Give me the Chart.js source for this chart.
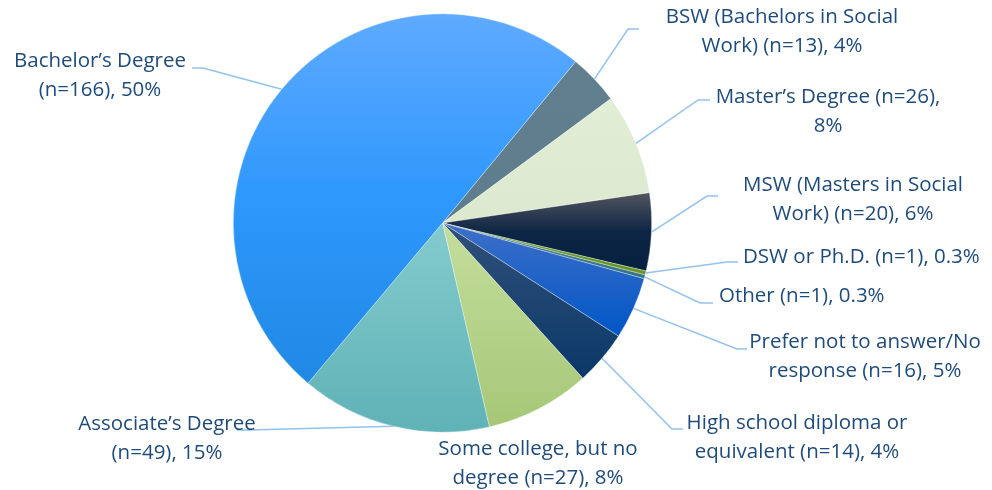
<!DOCTYPE html>
<html>
<head>
<meta charset="utf-8">
<script src="https://cdn.jsdelivr.net/npm/chart.js@4.4.1/dist/chart.umd.min.js"></script>
<style>
  html, body { margin: 0; padding: 0; background: #fff; }
  #wrap { width: 992px; height: 490px; }
</style>
</head>
<body>
<div id="wrap"><canvas id="eduChart" width="992" height="490"></canvas></div>
<script>
(function () {
    'use strict';

    // ── Data (clockwise from the BSW slice) ───────────────────────
    const CATEGORIES = [
        'BSW (Bachelors in Social Work)',
        'Master\u2019s Degree',
        'MSW (Masters in Social Work)',
        'DSW or Ph.D.',
        'Other',
        'Prefer not to answer/No response',
        'High school diploma or equivalent',
        'Some college, but no degree',
        'Associate\u2019s Degree',
        'Bachelor\u2019s Degree'
    ];
    const COUNTS = [13, 26, 20, 1, 1, 16, 14, 27, 49, 166];

    // slice fills: colour stops of a vertical gradient, top to bottom
    const FILLS = [
        ['#617f8e', '#5f7d8c'],
        ['#e1edd4', '#dde9cf'],
        ['#52555f', '#0d2544', '#06203f'],
        ['#6f9c2c', '#679426'],
        ['#3f7f8e', '#347484'],
        ['#3f6fc8', '#0056c6'],
        ['#31507a', '#0a3868'],
        ['#c3de9c', '#a7c777'],
        ['#84cbcd', '#5fb2b6'],
        ['#5eaaff', '#2e98fc', '#2088e4']
    ];

    const TEXT_COLOR = '#1f4b7a';
    const LEADER_COLOR = '#93c2ec';
    const FONT = '20.5px "Open Sans", Lato, sans-serif';
    const LINE_H = 29;

    // label boxes: centre x, first-line y, words on first line, leader elbow/end
    const LABEL_POS = [
        { x: 782, y: 17,  words: 4, elbow: [628, 29],  end: [639, 29] },
        { x: 828, y: 97,  words: 3, elbow: [698, 100], end: [710, 100] },
        { x: 853, y: 185, words: 4, elbow: [707, 196], end: [718, 196] },
        { x: 743, y: 257, words: 0, align: 'left', elbow: [727, 262], end: [738, 262] },
        { x: 719, y: 296, words: 0, align: 'left', elbow: [700, 303], end: [713, 303] },
        { x: 865, y: 342, words: 4, elbow: [737, 349], end: [747, 349] },
        { x: 797, y: 423, words: 4, elbow: [672, 429], end: [683, 429] },
        { x: 538, y: 449, words: 4, elbow: null, end: null },
        { x: 167, y: 424, words: 2, elbow: [248, 430], end: [237, 430] },
        { x: 100, y: 61,  words: 2, elbow: [203, 68],  end: [192, 68] }
    ];

    const TOTAL = COUNTS.reduce(function (a, b) { return a + b; }, 0);

    function pctText(n) {
        var p = n / TOTAL * 100;
        return (p < 1 ? p.toFixed(1) : Math.round(p)) + '%';
    }

    function labelLines(i) {
        var words = (CATEGORIES[i] + ' (n=' + COUNTS[i] + '), ' + pctText(COUNTS[i])).split(' ');
        var k = LABEL_POS[i].words;
        if (!k) return [words.join(' ')];
        return [words.slice(0, k).join(' '), words.slice(k).join(' ')];
    }

    // ── Per-slice vertical gradients ─────────────────────────────
    function arcYRange(a) {
        var ys = [a.y, a.y + Math.sin(a.startAngle) * a.outerRadius, a.y + Math.sin(a.endAngle) * a.outerRadius];
        [Math.PI / 2, -Math.PI / 2, 1.5 * Math.PI, 2.5 * Math.PI].forEach(function (t) {
            if (t > a.startAngle && t < a.endAngle) ys.push(a.y + Math.sin(t) * a.outerRadius);
        });
        return [Math.min.apply(null, ys), Math.max.apply(null, ys)];
    }

    const gradientFill = {
        id: 'gradientFill',
        beforeDatasetsDraw: function (chart) {
            var ctx = chart.ctx;
            chart.getDatasetMeta(0).data.forEach(function (arc, i) {
                var r = arcYRange(arc);
                var g = ctx.createLinearGradient(0, r[0], 0, r[1]);
                var stops = FILLS[i];
                stops.forEach(function (c, k) { g.addColorStop(k / (stops.length - 1), c); });
                arc.options.backgroundColor = g;
            });
        }
    };

    // ── Leader lines + labels ────────────────────────────────────
    const leaderLabels = {
        id: 'leaderLabels',
        afterDatasetsDraw: function (chart) {
            var ctx = chart.ctx;
            ctx.save();
            chart.getDatasetMeta(0).data.forEach(function (arc, i) {
                var pos = LABEL_POS[i];
                if (pos.elbow) {
                    var mid = (arc.startAngle + arc.endAngle) / 2;
                    var ax = arc.x + Math.cos(mid) * arc.outerRadius;
                    var ay = arc.y + Math.sin(mid) * arc.outerRadius;
                    ctx.beginPath();
                    ctx.moveTo(ax, ay);
                    ctx.lineTo(pos.elbow[0], pos.elbow[1]);
                    ctx.lineTo(pos.end[0], pos.end[1]);
                    ctx.strokeStyle = LEADER_COLOR;
                    ctx.lineWidth = 1.5;
                    ctx.stroke();
                }
                ctx.font = FONT;
                ctx.fillStyle = TEXT_COLOR;
                ctx.textAlign = pos.align || 'center';
                ctx.textBaseline = 'middle';
                labelLines(i).forEach(function (line, j) {
                    ctx.fillText(line, pos.x, pos.y + j * LINE_H);
                });
            });
            ctx.restore();
        }
    };

    new Chart(document.getElementById('eduChart'), {
        type: 'pie',
        data: {
            labels: CATEGORIES,
            datasets: [{
                data: COUNTS,
                backgroundColor: FILLS.map(function (f) { return f[0]; }),
                borderColor: 'rgba(255,255,255,0.55)',
                borderWidth: 0.6
            }]
        },
        options: {
            responsive: false,
            animation: false,
            rotation: 39.5,
            layout: { padding: { left: 233, right: 340, top: 13, bottom: 57 } },
            plugins: {
                legend: { display: false },
                tooltip: { enabled: false }
            }
        },
        plugins: [gradientFill, leaderLabels]
    });
})();
</script>
</body>
</html>
